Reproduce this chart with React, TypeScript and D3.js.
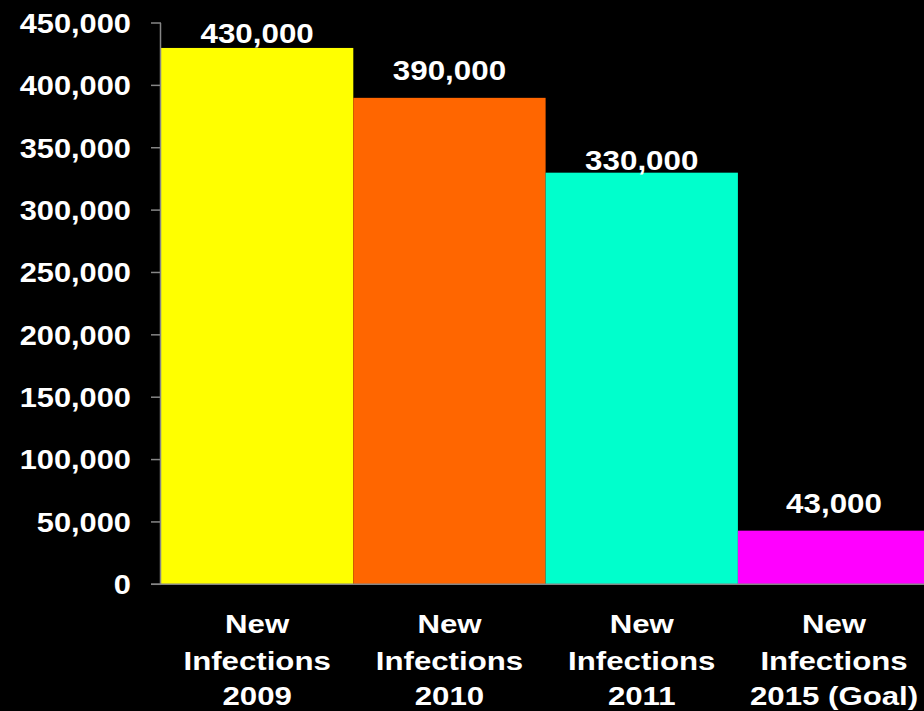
import React, { useEffect, useRef } from "react";
import * as d3 from "d3";

// Bar categories, each label split into its display lines
const categories = ["2009", "2010", "2011", "2015 (Goal)"];
const categoryLines = [
  ["New", "Infections", "2009"],
  ["New", "Infections", "2010"],
  ["New", "Infections", "2011"],
  ["New", "Infections", "2015 (Goal)"],
];
const newInfections = [430000, 390000, 330000, 43000];
const barColors = ["#FFFF00", "#FF6600", "#00FFCC", "#FF00FF"];
const yTicks = [0, 50000, 100000, 150000, 200000, 250000, 300000, 350000, 400000, 450000];

// Distance of each value label's baseline above its bar top
const labelLift = [5, 18, 3, 18];

const W = 924;
const H = 711;
const FONT = "'Liberation Sans', Arial, Helvetica, sans-serif";

export default function App() {
  const ref = useRef<SVGSVGElement | null>(null);

  useEffect(() => {
    const svg = d3.select(ref.current);
    svg.selectAll("*").remove();

    const left = 161;
    const step = 192.3;
    const x = d3
      .scaleBand<string>()
      .domain(categories)
      .range([left, left + step * categories.length])
      .padding(0);
    const y = d3.scaleLinear().domain([0, 450000]).range([584.3, 23]);
    const fmt = d3.format(",");

    svg.append("rect").attr("width", W).attr("height", H).attr("fill", "#000");

    // bars
    svg
      .append("g")
      .selectAll("rect")
      .data(newInfections)
      .join("rect")
      .attr("x", (_, i) => x(categories[i])!)
      .attr("width", x.bandwidth())
      .attr("y", (d) => y(d))
      .attr("height", (d) => y(0) - y(d))
      .attr("fill", (_, i) => barColors[i]);

    // axes
    const axisColor = "#868686";
    svg
      .append("line")
      .attr("x1", left - 0.5)
      .attr("x2", left - 0.5)
      .attr("y1", y(450000))
      .attr("y2", y(0))
      .attr("stroke", axisColor)
      .attr("stroke-width", 1.5);
    svg
      .append("line")
      .attr("x1", left - 10)
      .attr("x2", W)
      .attr("y1", y(0))
      .attr("y2", y(0))
      .attr("stroke", axisColor)
      .attr("stroke-width", 1.5);

    const tickG = svg.append("g");
    yTicks.forEach((t) => {
      tickG
        .append("line")
        .attr("x1", left - 10)
        .attr("x2", left)
        .attr("y1", y(t))
        .attr("y2", y(t))
        .attr("stroke", axisColor)
        .attr("stroke-width", 1.5);
      tickG
        .append("text")
        .attr("transform", `translate(131,${y(t) + 9.8}) scale(1.1,1)`)
        .attr("text-anchor", "end")
        .attr("fill", "#fff")
        .attr("font-family", FONT)
        .attr("font-weight", "bold")
        .attr("font-size", 28)
        .text(fmt(t));
    });

    // value labels
    newInfections.forEach((v, i) => {
      const cx = x(categories[i])! + x.bandwidth() / 2;
      svg
        .append("text")
        .attr("transform", `translate(${cx},${y(v) - labelLift[i]}) scale(1.12,1)`)
        .attr("text-anchor", "middle")
        .attr("fill", "#fff")
        .attr("font-family", FONT)
        .attr("font-weight", "bold")
        .attr("font-size", 28)
        .text(fmt(v));
    });

    // category labels, kept inside the right edge
    const baselines = [633.3, 670, 705];
    categoryLines.forEach((lines, i) => {
      const cx = x(categories[i])! + x.bandwidth() / 2;
      const g = svg.append("g");
      const texts = lines.map((line, j) =>
        g
          .append("text")
          .attr("transform", `translate(0,${baselines[j]}) scale(1.2,1)`)
          .attr("text-anchor", "middle")
          .attr("fill", "#fff")
          .attr("font-family", FONT)
          .attr("font-weight", "bold")
          .attr("font-size", 26)
          .text(line)
      );
      let half = 0;
      texts.forEach((t) => {
        const n = t.node() as SVGTextElement;
        half = Math.max(half, (n.getComputedTextLength() * 1.2) / 2);
      });
      const gx = Math.min(cx, W - 4 - half);
      g.attr("transform", `translate(${gx},0)`);
    });
  }, []);

  return (
    <svg
      ref={ref}
      width={W}
      height={H}
      style={{ position: "fixed", left: 0, top: 0, display: "block" }}
    />
  );
}
